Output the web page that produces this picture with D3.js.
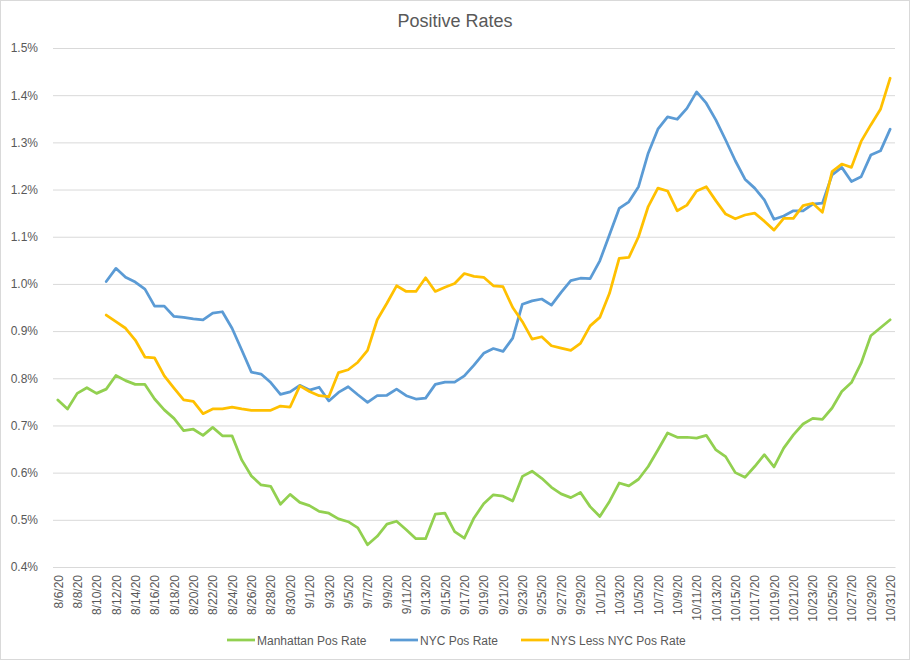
<!DOCTYPE html>
<html lang="en">
  <head>
    <meta charset="UTF-8" />
    <title>Positive Rates</title>
    <style>
      body {
        margin: 0;
        background: white;
      }
      text {
        font-family: "Liberation Sans", Arial, sans-serif;
        fill: #595959;
      }
    </style>
  </head>
  <body>
    <svg id="svg" width="910" height="660"></svg>
    <script src="https://cdn.jsdelivr.net/npm/d3@7"></script>
    <script>
      // Dates 8/6/20 .. 10/31/20 (daily category axis)
      const dates = d3.timeDay
        .range(new Date(2020, 7, 6), new Date(2020, 10, 1))
        .map((d) => `${d.getMonth() + 1}/${d.getDate()}/20`);

      // Values in percent
      const manhattan = [
        0.754, 0.735, 0.768, 0.780, 0.768, 0.777, 0.806, 0.795, 0.787, 0.787,
        0.756, 0.733, 0.715, 0.689, 0.692, 0.679, 0.696, 0.678, 0.678, 0.627,
        0.593, 0.574, 0.571, 0.533, 0.554, 0.537, 0.530, 0.518, 0.514, 0.502,
        0.496, 0.483, 0.447, 0.465, 0.491, 0.497, 0.479, 0.460, 0.460, 0.512,
        0.514, 0.475, 0.461, 0.504, 0.534, 0.553, 0.550, 0.540, 0.592, 0.603,
        0.588, 0.569, 0.555, 0.547, 0.558, 0.528, 0.507, 0.539, 0.578, 0.572,
        0.586, 0.613, 0.648, 0.684, 0.675, 0.675, 0.673, 0.679, 0.648, 0.634,
        0.600, 0.590, 0.613, 0.638, 0.612, 0.652, 0.680, 0.703, 0.715, 0.713,
        0.737, 0.772, 0.791, 0.832, 0.890, 0.907, 0.924
      ];
      const nyc = [
        null, null, null, null, null,
        1.005, 1.033, 1.014, 1.004, 0.989, 0.953, 0.953, 0.931, 0.929, 0.926,
        0.924, 0.938, 0.941, 0.906, 0.860, 0.813, 0.809, 0.791, 0.766, 0.771,
        0.785, 0.775, 0.781, 0.752, 0.770, 0.782, 0.765, 0.749, 0.763, 0.764,
        0.777, 0.763, 0.756, 0.758, 0.787, 0.792, 0.792, 0.805, 0.828, 0.853,
        0.863, 0.857, 0.885, 0.957, 0.964, 0.968, 0.955, 0.982, 1.007, 1.012,
        1.011, 1.049, 1.104, 1.160, 1.174, 1.206, 1.277, 1.328, 1.354, 1.349,
        1.372, 1.407, 1.383, 1.347, 1.305, 1.261, 1.222, 1.203, 1.178, 1.137,
        1.144, 1.155, 1.155, 1.169, 1.171, 1.231, 1.247, 1.217, 1.227, 1.273,
        1.282, 1.328
      ];
      const nysLessNyc = [
        null, null, null, null, null,
        0.934, 0.920, 0.906, 0.881, 0.845, 0.843, 0.805, 0.779, 0.754, 0.751,
        0.725, 0.735, 0.735, 0.739, 0.735, 0.732, 0.732, 0.732, 0.741, 0.739,
        0.784, 0.772, 0.763, 0.761, 0.812, 0.818, 0.834, 0.859, 0.924, 0.959,
        0.996, 0.984, 0.984, 1.013, 0.984, 0.993, 1.001, 1.022, 1.016, 1.014,
        0.996, 0.994, 0.950, 0.920, 0.883, 0.888, 0.869, 0.864, 0.859, 0.874,
        0.911, 0.929, 0.980, 1.054, 1.056, 1.100, 1.164, 1.203, 1.197, 1.155,
        1.167, 1.197, 1.206, 1.176, 1.148, 1.138, 1.146, 1.150, 1.133, 1.114,
        1.139, 1.139, 1.166, 1.171, 1.152, 1.238, 1.254, 1.247, 1.302, 1.337,
        1.370, 1.436
      ];

      const seriesNames = ["Manhattan Pos Rate", "NYC Pos Rate", "NYS Less NYC Pos Rate"];
      const seriesColors = ["#92d050", "#5b9bd5", "#ffc000"];
      const seriesValues = [manhattan, nyc, nysLessNyc];
      const yTicks = [0.4, 0.5, 0.6, 0.7, 0.8, 0.9, 1.0, 1.1, 1.2, 1.3, 1.4, 1.5];

      const W = 910, H = 660;
      const plot = { left: 53, right: 895, top: 48, bottom: 567 };

      const svg = d3.select("#svg");

      // chart border
      svg.append("rect")
        .attr("x", 0.5).attr("y", 0.5)
        .attr("width", W - 1).attr("height", H - 1)
        .attr("fill", "white")
        .attr("stroke", "#d9d9d9");

      const xScale = d3.scalePoint()
        .domain(dates)
        .range([plot.left, plot.right])
        .padding(0.5);

      const yScale = d3.scaleLinear()
        .domain([0.4, 1.5])
        .range([plot.bottom, plot.top]);

      // gridlines + y labels
      const yAxis = svg.append("g")
        .attr("transform", `translate(${plot.left},0)`)
        .call(d3.axisLeft(yScale)
          .tickValues(yTicks)
          .tickFormat((d) => d.toFixed(1) + "%")
          .tickSize(-(plot.right - plot.left))
          .tickPadding(15));
      yAxis.select(".domain").remove();
      yAxis.selectAll("line").attr("stroke", "#d9d9d9");
      yAxis.selectAll("text")
        .attr("fill", "#595959")
        .style("font-size", "12px");

      // x axis
      const xAxis = svg.append("g")
        .attr("transform", `translate(0,${plot.bottom})`)
        .call(d3.axisBottom(xScale)
          .tickValues(dates.filter((d, i) => i % 2 === 0))
          .tickSize(0)
          .tickPadding(0));
      xAxis.select(".domain").attr("stroke", "#d9d9d9");
      xAxis.selectAll("text")
        .attr("fill", "#595959")
        .style("font-size", "12px")
        .style("text-anchor", "end")
        .attr("transform", "rotate(-90)")
        .attr("x", -8)
        .attr("y", 0)
        .attr("dy", "0.35em");

      // lines
      const line = d3.line()
        .defined((d) => d != null)
        .x((d, i) => xScale(dates[i]))
        .y((d) => yScale(d));

      seriesValues.forEach((vals, k) => {
        svg.append("path")
          .datum(vals)
          .attr("fill", "none")
          .attr("stroke", seriesColors[k])
          .attr("stroke-width", 2.75)
          .attr("stroke-linejoin", "round")
          .attr("stroke-linecap", "round")
          .attr("d", line);
      });

      // title
      svg.append("text")
        .attr("x", 455)
        .attr("y", 27)
        .attr("text-anchor", "middle")
        .style("font-size", "18px")
        .text("Positive Rates");

      // legend
      const legendX = [227, 390, 521];
      const legend = svg.append("g");
      seriesNames.forEach((name, k) => {
        legend.append("line")
          .attr("x1", legendX[k]).attr("x2", legendX[k] + 28)
          .attr("y1", 640).attr("y2", 640)
          .attr("stroke", seriesColors[k])
          .attr("stroke-width", 2.75);
        legend.append("text")
          .attr("x", legendX[k] + 30)
          .attr("y", 644.5)
          .style("font-size", "12px")
          .text(name);
      });
    </script>
  </body>
</html>
